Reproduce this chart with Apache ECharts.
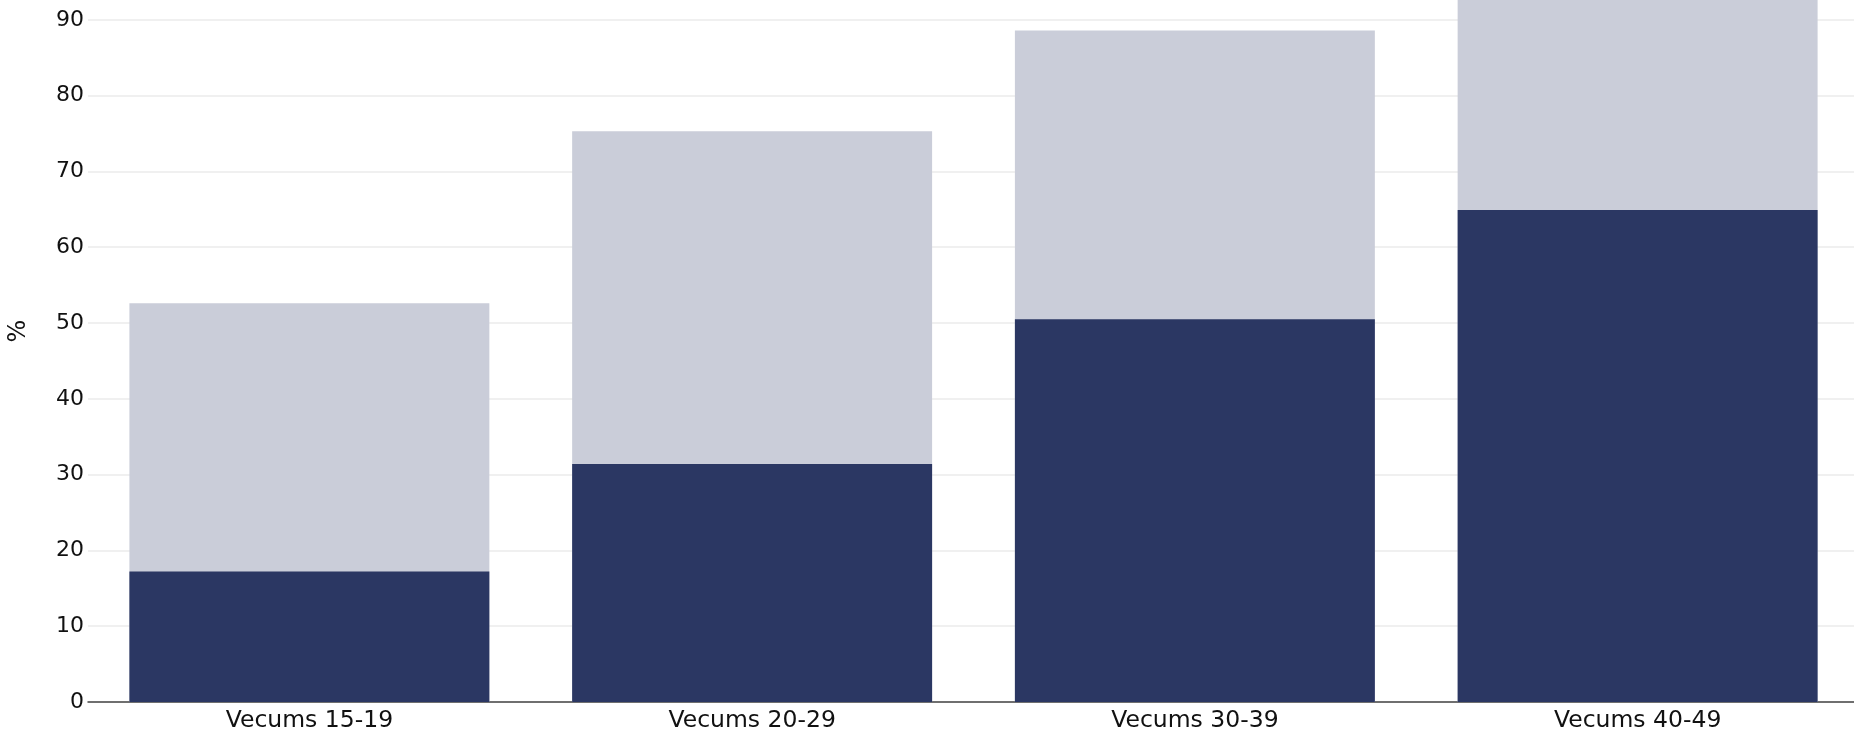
<!DOCTYPE html>
<html>
<head>
<meta charset="utf-8">
<script src="https://cdn.jsdelivr.net/npm/echarts@6/dist/echarts.min.js"></script>
<style>
html,body{margin:0;padding:0;background:#fff;}
#chart{width:1854px;height:735px;}
</style>
</head>
<body>
<div id="chart"></div>
<script>
const categories = ['Vecums 15-19', 'Vecums 20-29', 'Vecums 30-39', 'Vecums 40-49'];
const totalValues = [52.6, 75.3, 88.6, 95];
const innerValues = [17.2, 31.4, 50.5, 64.9];
const yTicks = [0, 10, 20, 30, 40, 50, 60, 70, 80, 90, 100];

const chart = echarts.init(document.getElementById('chart'), null, {renderer: 'canvas'});
const font = '"DejaVu Sans", "Noto Sans", sans-serif';
chart.setOption({
  animation: false,
  grid: {left: 88, width: 1771, top: -56, bottom: 33, containLabel: false, outerBoundsMode: 'none'},
  xAxis: {
    type: 'category',
    data: categories,
    axisTick: {show: false},
    axisLine: {lineStyle: {color: '#444', width: 1.5}},
    axisLabel: {color: '#111', fontSize: 23.5, fontFamily: font, margin: 7}
  },
  yAxis: {
    type: 'value',
    min: yTicks[0],
    max: yTicks[yTicks.length - 1],
    interval: 10,
    name: '%',
    nameLocation: 'middle',
    nameGap: 56,
    nameRotate: 90,
    nameTextStyle: {color: '#111', fontSize: 24, fontFamily: font, padding: [0, 16, 0, 0]},
    axisLine: {show: false},
    axisTick: {show: false},
    axisLabel: {color: '#111', fontSize: 22, fontFamily: font, margin: 4},
    splitLine: {lineStyle: {color: '#ebebeb', width: 1.5}}
  },
  series: [
    {
      type: 'bar',
      data: totalValues,
      barWidth: '81.3%',
      barGap: '-100%',
      clip: false,
      itemStyle: {color: '#cacdd9'},
      z: 2
    },
    {
      type: 'bar',
      data: innerValues,
      barWidth: '81.3%',
      clip: false,
      itemStyle: {color: '#2b3763'},
      z: 3
    }
  ]
});
</script>
</body>
</html>
